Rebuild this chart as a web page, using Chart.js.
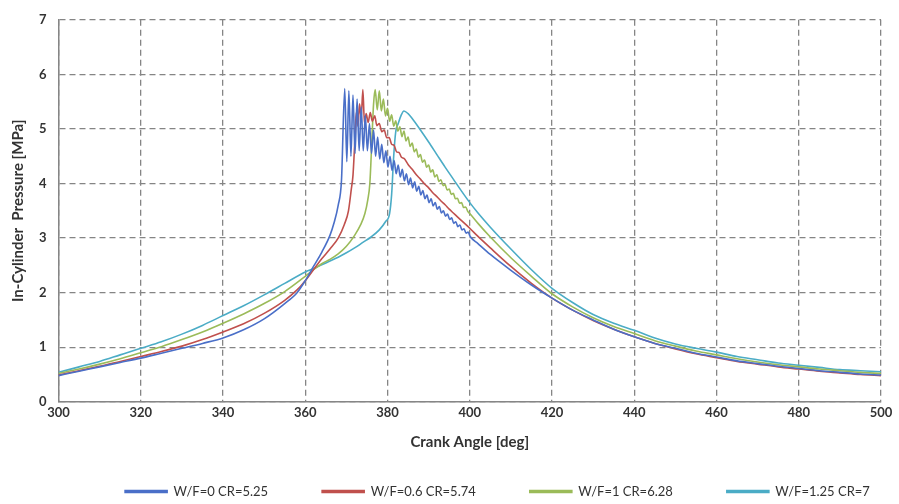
<!DOCTYPE html>
<html>
<head>
    <title>In-Cylinder Pressure vs Crank Angle</title>
    <script src="https://cdn.jsdelivr.net/npm/chart.js"></script>
    <style>
        body { margin: 0; background: #fff; }
        .container { width: 899px; height: 504px; }
    </style>
</head>
<body>
    <div class="container">
        <canvas id="pressureChart" width="899" height="504"></canvas>
    </div>
    <script>
        // Series labels
        const seriesLabels = ['W/F=0 CR=5.25', 'W/F=0.6 CR=5.74', 'W/F=1 CR=6.28', 'W/F=1.25 CR=7'];

        // W/F=0 (blue) - strong pressure oscillation after ignition
        const blueAngle = [300, 305, 310, 315, 320, 325, 330, 335, 340, 345, 350, 355, 358, 360, 362, 364, 366, 367, 368, 368.8,
            369.6, 370.1, 370.6, 371.1, 371.6, 372.1, 372.6, 373.1, 373.6, 374.1, 374.6, 375.1, 375.6, 376.1, 376.6, 377.1,
            377.6, 378.1, 378.6, 379.1, 379.6, 380.1, 380.6, 381.1, 381.6, 382.1, 382.6, 383.1, 383.6, 384.1, 384.6, 385.1,
            385.6, 386.1, 386.6, 387.1, 387.6, 388.1, 388.6, 389.1, 389.6, 390.1, 390.6, 391.1, 391.6, 392.1, 392.6, 393.1,
            393.6, 394.1, 394.6, 395.1, 395.6, 396.1, 396.6, 397.1, 397.6, 398.1, 398.6, 399.1, 399.6, 400.1,
            402, 405, 410, 415, 420, 425, 430, 435, 440, 445, 450, 455, 460, 465, 470, 475, 480, 485, 490, 495, 500];
        const bluePressure = [0.48, 0.56, 0.64, 0.72, 0.80, 0.89, 0.98, 1.07, 1.17, 1.32, 1.52, 1.80, 2.00, 2.22, 2.48, 2.74, 3.05, 3.28, 3.60, 4.05,
            5.74, 4.40, 5.70, 4.50, 5.62, 4.55, 5.55, 4.60, 5.40, 4.60, 5.25, 4.60, 5.10, 4.55, 4.98, 4.50,
            4.85, 4.45, 4.72, 4.38, 4.60, 4.30, 4.50, 4.24, 4.42, 4.18, 4.34, 4.12, 4.26, 4.05, 4.18, 3.98,
            4.10, 3.92, 4.03, 3.86, 3.95, 3.79, 3.87, 3.72, 3.79, 3.65, 3.72, 3.59, 3.65, 3.53, 3.58, 3.46,
            3.50, 3.40, 3.44, 3.34, 3.37, 3.27, 3.30, 3.21, 3.24, 3.15, 3.17, 3.09, 3.11, 3.03,
            2.90, 2.70, 2.41, 2.14, 1.90, 1.68, 1.50, 1.33, 1.19, 1.07, 0.98, 0.89, 0.82, 0.75, 0.70, 0.65, 0.61, 0.57, 0.54, 0.51, 0.49];

        // W/F=0.6 (red)
        const redAngle = [300, 305, 310, 315, 320, 325, 330, 335, 340, 345, 350, 355, 358, 360, 362, 364, 366, 368, 369.5, 370.5,
            371.2, 371.6, 372.0, 372.4, 372.8, 373.2, 373.6, 374.0, 374.4, 374.8, 375.3, 375.8, 376.3, 376.9, 377.4, 378.0,
            378.6, 379.2, 379.8, 380.4, 381.0, 381.6, 382.2, 382.8, 383.4, 384.0, 385, 386, 387, 388, 389, 390, 391, 392,
            393, 394, 395, 396, 397, 398, 399, 400, 402, 405, 410, 415, 420, 425, 430, 435, 440, 445, 450, 455, 460, 465,
            470, 475, 480, 485, 490, 495, 500];
        const redPressure = [0.49, 0.57, 0.65, 0.74, 0.83, 0.92, 1.02, 1.14, 1.28, 1.43, 1.62, 1.86, 2.05, 2.22, 2.42, 2.62, 2.80, 3.00, 3.25, 3.50,
            3.90, 4.15, 4.70, 5.30, 5.05, 5.46, 5.20, 5.72, 5.10, 5.28, 5.12, 5.30, 5.14, 5.24, 5.06, 5.10,
            4.95, 4.98, 4.84, 4.84, 4.72, 4.70, 4.58, 4.57, 4.48, 4.46, 4.35, 4.26, 4.16, 4.08, 3.99, 3.92, 3.83, 3.76,
            3.68, 3.61, 3.53, 3.46, 3.39, 3.32, 3.25, 3.18, 3.03, 2.82, 2.48, 2.17, 1.90, 1.68, 1.49, 1.33, 1.19, 1.07, 0.97, 0.88, 0.81, 0.74,
            0.69, 0.64, 0.60, 0.56, 0.53, 0.50, 0.48];

        // W/F=1 (green)
        const greenAngle = [300, 305, 310, 315, 320, 325, 330, 335, 340, 345, 350, 355, 360, 362, 364, 366, 368, 370, 372, 373.5,
            374.5, 375.2, 375.7, 376.2, 376.6, 377.0, 377.5, 378.0, 378.5, 379.0, 379.5, 380.0, 380.5, 381.0, 381.5, 382.0,
            382.5, 383.0, 383.5, 384.0, 384.5, 385.0, 385.5, 386.0, 386.5, 387.0, 387.5, 388.0, 388.5, 389.0, 389.5, 390.0,
            390.5, 391.0, 391.5, 392.0, 392.5, 393.0, 393.5, 394.0, 394.5, 395.0, 395.5, 396.0, 396.5, 397.0, 397.5, 398.0,
            398.5, 399.0, 399.5, 400.0, 402, 405, 410, 415, 420, 425, 430, 435, 440, 445, 450, 455, 460, 465, 470, 475,
            480, 485, 490, 495, 500];
        const greenPressure = [0.52, 0.60, 0.69, 0.79, 0.90, 1.01, 1.14, 1.28, 1.44, 1.61, 1.80, 2.02, 2.30, 2.42, 2.53, 2.61, 2.71, 2.85, 3.05, 3.25,
            3.45, 3.70, 4.00, 4.80, 5.45, 5.72, 5.35, 5.70, 5.33, 5.55, 5.24, 5.38, 5.14, 5.26, 5.05, 5.15,
            4.96, 5.04, 4.86, 4.96, 4.78, 4.85, 4.68, 4.74, 4.58, 4.63, 4.48, 4.53, 4.39, 4.43, 4.30, 4.34,
            4.21, 4.25, 4.12, 4.16, 4.04, 4.07, 3.96, 3.98, 3.88, 3.90, 3.80, 3.82, 3.72, 3.73, 3.64, 3.65,
            3.56, 3.57, 3.49, 3.45, 3.27, 3.02, 2.64, 2.30, 1.98, 1.74, 1.54, 1.38, 1.25, 1.12, 1.02, 0.93, 0.86, 0.79, 0.73, 0.68,
            0.64, 0.60, 0.57, 0.54, 0.52];

        // W/F=1.25 (cyan)
        const cyanAngle = [300, 305, 310, 315, 320, 325, 330, 335, 340, 345, 350, 355, 360, 362, 364, 366, 368, 370, 372, 374,
            376, 378, 379.5, 380.5, 381, 381.5, 382, 382.6, 383.3, 384, 385, 386, 388, 390, 392, 394, 396, 398,
            400, 402, 405, 410, 415, 420, 425, 430, 435, 440, 445, 450, 455, 460, 465, 470, 475, 480, 485, 490, 495, 500];
        const cyanPressure = [0.54, 0.64, 0.74, 0.86, 0.98, 1.10, 1.24, 1.40, 1.58, 1.76, 1.96, 2.17, 2.38, 2.44, 2.51, 2.58, 2.65, 2.73, 2.82, 2.92,
            3.02, 3.15, 3.30, 3.45, 3.80, 4.50, 4.95, 5.10, 5.25, 5.33, 5.28, 5.19, 4.98, 4.76, 4.53, 4.30, 4.08, 3.86,
            3.65, 3.46, 3.20, 2.80, 2.42, 2.08, 1.82, 1.60, 1.44, 1.31, 1.17, 1.06, 0.98, 0.91, 0.83, 0.77, 0.71, 0.67, 0.63, 0.59, 0.57, 0.55];

        const seriesColors = ['#4a6fc8', '#c0504d', '#9bbb59', '#4bacc6'];

        function toPoints(xs, ys) {
            return xs.map((x, i) => ({ x: x, y: ys[i] }));
        }

        const allSeries = [
            toPoints(blueAngle, bluePressure),
            toPoints(redAngle, redPressure),
            toPoints(greenAngle, greenPressure),
            toPoints(cyanAngle, cyanPressure)
        ];

        const gridColor = '#858585';
        const textColor = '#333333';
        const fontFamily = 'Lato, "Open Sans", sans-serif';

        // the original legend sits right of centre, nudge it over
        const legendShift = {
            id: 'legendShift',
            afterLayout(chart) {
                chart.legend.left += 54;
                chart.legend.right += 54;
            }
        };

        const ctx = document.getElementById('pressureChart').getContext('2d');
        new Chart(ctx, {
            type: 'line',
            data: {
                datasets: allSeries.map((pts, i) => ({
                    label: seriesLabels[i],
                    data: pts,
                    borderColor: seriesColors[i],
                    backgroundColor: seriesColors[i],
                    borderWidth: 1.6,
                    pointRadius: 0,
                    cubicInterpolationMode: 'monotone'
                }))
            },
            plugins: [legendShift],
            options: {
                responsive: false,
                devicePixelRatio: 1,
                animation: false,
                layout: { padding: { left: 6, right: 18, top: 10, bottom: -4 } },
                plugins: {
                    tooltip: { enabled: false },
                    legend: {
                        position: 'bottom',
                        labels: {
                            boxWidth: 42,
                            boxHeight: 2,
                            padding: 54,
                            color: textColor,
                            font: { family: fontFamily, size: 13 }
                        }
                    }
                },
                scales: {
                    x: {
                        type: 'linear',
                        min: 300,
                        max: 500,
                        ticks: { stepSize: 20, padding: 3, color: textColor, font: { family: fontFamily, size: 13, weight: 'bold' } },
                        grid: { color: gridColor, lineWidth: 1.3, drawTicks: false },
                        border: { color: '#868686', width: 1.5, dash: [6, 4] },
                        title: {
                            display: true,
                            text: 'Crank Angle [deg]',
                            color: textColor,
                            font: { family: fontFamily, size: 15, weight: 'bold' },
                            padding: { top: 9.6, bottom: -20 }
                        }
                    },
                    y: {
                        min: 0,
                        max: 7,
                        ticks: { stepSize: 1, padding: 12, color: textColor, font: { family: fontFamily, size: 13, weight: 'bold' } },
                        grid: { color: gridColor, lineWidth: 1.3, drawTicks: false },
                        border: { color: '#868686', width: 1.5, dash: [6, 4] },
                        title: {
                            display: true,
                            text: 'In-Cylinder  Pressure [MPa]',
                            color: textColor,
                            font: { family: fontFamily, size: 15, weight: 'bold' },
                            padding: { top: 3, bottom: 0 }
                        }
                    }
                }
            }
        });
    </script>
</body>
</html>
